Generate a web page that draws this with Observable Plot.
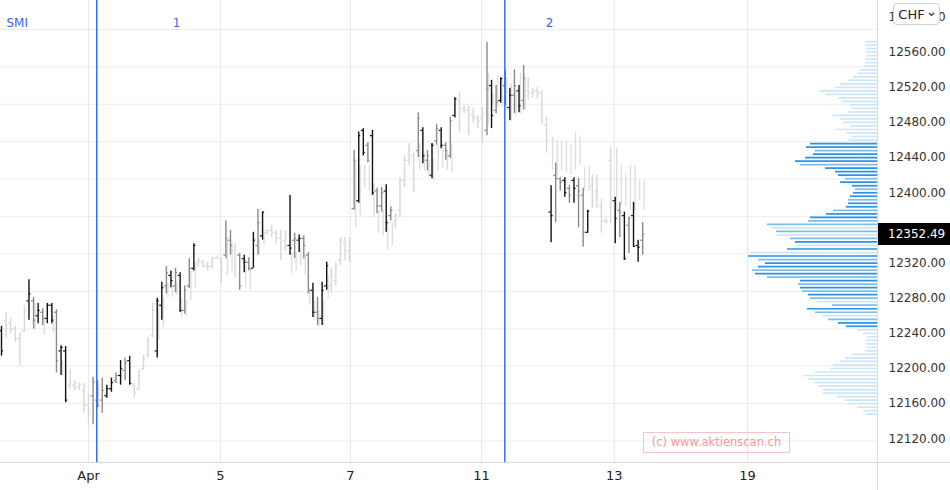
<!DOCTYPE html>
<html>
<head>
<meta charset="utf-8">
<script src="https://cdn.jsdelivr.net/npm/d3@7"></script>
<script src="https://cdn.jsdelivr.net/npm/@observablehq/plot@0.6"></script>
<style>
html,body{margin:0;padding:0;background:#fff;}
#wrap{position:relative;width:950px;height:490px;overflow:hidden;font-family:"DejaVu Sans",sans-serif;}
#wrap > svg{position:absolute;left:0;top:0;}
.hline{position:absolute;left:0;top:461.5px;width:950px;height:1px;background:#dadada;}
.vline{position:absolute;left:876.5px;top:0;width:1px;height:490px;background:#dadada;}
#chf{position:absolute;left:893px;top:3px;width:47px;height:22px;box-sizing:border-box;border:1px solid #cfcfcf;border-radius:4px;background:#fff;font-size:13px;color:#222;display:flex;align-items:center;justify-content:center;gap:3px;}
#wm{position:absolute;left:643px;top:432px;width:147px;height:21px;box-sizing:border-box;border:1px solid #f6c4c4;color:#f29a9a;font-size:11.5px;line-height:19px;text-align:center;}
</style>
</head>
<body>
<div id="wrap">
</div>
<script>
// ---------- data ----------
const seriesName = "SMI";
const currency = "CHF";
const watermark = "(c) www.aktienscan.ch";

// OHLC bars (one per bar index)
const highs = [
12248,12264,12257,12248,12240,12272,12301,12281,12274,12268,
12274,12274,12267,12226,12225,12198,12186,12183,12183,12171,
12190,12186,12189,12181,12189,12195,12209,12212,12214,12183,
12198,12215,12235,12274,12280,12298,12316,12311,12314,12309,
12294,12325,12342,12326,12323,12321,12327,12327,12326,12368,
12357,12342,12331,12329,12326,12355,12381,12378,12358,12363,
12357,12357,12357,12397,12354,12352,12351,12332,12297,12281,
12298,12321,12314,12321,12349,12349,12349,12448,12469,12473,
12457,12471,12405,12406,12409,12384,12376,12417,12442,12456,
12445,12491,12474,12448,12456,12478,12474,12457,12486,12508,
12514,12499,12499,12496,12488,12497,12571,12528,12522,12531,
12539,12519,12540,12522,12545,12531,12519,12520,12516,12486,
12408,12434,12417,12417,12408,12417,12416,12405,12380,12420,
12420,12393,12371,12451,12395,12389,12378,12372,12389,12346,
12366];
const lows = [
12214,12235,12240,12230,12203,12241,12255,12245,12251,12249,
12251,12251,12195,12192,12161,12177,12175,12175,12149,12137,
12136,12155,12149,12166,12173,12183,12181,12186,12181,12166,
12175,12198,12212,12235,12212,12255,12285,12292,12286,12264,
12262,12291,12311,12315,12314,12311,12314,12325,12297,12325,
12329,12303,12289,12309,12311,12314,12329,12346,12351,12349,
12342,12323,12334,12329,12325,12332,12325,12285,12258,12249,
12249,12289,12285,12294,12317,12323,12321,12380,12388,12442,
12434,12397,12376,12378,12355,12368,12360,12372,12406,12431,
12400,12440,12433,12425,12416,12454,12450,12437,12439,12485,
12469,12490,12465,12479,12473,12456,12465,12473,12490,12502,
12499,12482,12490,12491,12494,12505,12508,12507,12477,12445,
12343,12366,12402,12395,12388,12388,12360,12338,12354,12382,
12382,12354,12365,12365,12342,12349,12323,12331,12338,12321,
12329];
const opens = [
12243,12255,12252,12245,12234,12243,12277,12277,12260,12264,
12257,12272,12264,12220,12220,12181,12181,12179,12175,12158,
12169,12164,12164,12169,12177,12186,12192,12198,12209,12181,
12177,12200,12215,12238,12220,12272,12294,12306,12294,12306,
12266,12294,12314,12321,12321,12317,12316,12326,12325,12329,
12346,12334,12329,12325,12321,12314,12340,12351,12355,12357,
12354,12348,12346,12340,12346,12346,12348,12329,12289,12264,
12257,12294,12294,12300,12323,12343,12334,12382,12391,12471,
12454,12465,12402,12385,12402,12374,12368,12380,12414,12437,
12442,12448,12471,12437,12420,12459,12471,12454,12442,12488,
12505,12496,12494,12488,12485,12485,12471,12522,12494,12505,
12522,12497,12511,12516,12505,12516,12514,12516,12514,12477,
12378,12420,12416,12414,12405,12414,12408,12397,12355,12408,
12402,12385,12368,12437,12391,12380,12374,12363,12374,12340,
12346];
const closes = [
12220,12249,12245,12234,12238,12266,12285,12255,12266,12257,
12272,12255,12209,12224,12164,12186,12178,12182,12158,12152,
12185,12158,12175,12177,12184,12192,12200,12207,12183,12173,
12192,12211,12230,12266,12277,12292,12309,12300,12309,12266,
12289,12314,12340,12323,12317,12316,12325,12326,12311,12348,
12340,12317,12294,12321,12314,12346,12366,12378,12357,12355,
12348,12343,12340,12337,12348,12348,12340,12289,12264,12257,
12289,12317,12306,12317,12346,12334,12340,12437,12465,12446,
12437,12400,12385,12400,12366,12380,12374,12414,12437,12448,
12408,12485,12442,12442,12454,12473,12454,12448,12482,12507,
12494,12494,12471,12485,12482,12488,12519,12488,12503,12530,
12530,12511,12522,12499,12530,12528,12516,12513,12488,12460,
12374,12416,12412,12400,12397,12405,12402,12355,12379,12391,
12397,12368,12367,12391,12371,12378,12325,12371,12339,12338,
12352.49];
// bar tone: k = black, g = grey, l = light
const tones = ("klllllkgkg" + "kkgkklllll" + "gggkkgkgkl" + "llllkkgkgk" + "ggkllllllg" +
  "glgkgkgkll" + "lllkgkggkg" + "kklllllgkk" + "gkggkgllll" + "lgkgkgkggk" +
  "llllllgkgk" + "gkgkglllll" + "kggkgkggkl" + "llllkgkgkk" + "g").split("");

// second (pale) bar series behind the dark bars
const ghostIndex = [7,9,11,13,34,35,36,37,38,39,40,41,42,49,50,53,54,56,57,63,64,65,66,67,68,69,70,71,
  77,78,79,80,81,82,83,84,85,91,92,93,94,95,96,97,98,106,107,108,109,110,111,112,113,114,
  120,121,122,123,124,125,126,127,128,134,135,136,137,138,139,140];
const ghostHigh = [12274,12257,12260,12209,12274,12281,12297,12294,12297,12280,12277,12311,12321,12346,12342,
  12317,12314,12346,12357,12332,12332,12337,12329,12289,12277,12266,12277,12306,
  12437,12431,12431,12431,12410,12380,12380,12368,12366,12456,12445,12437,12439,12454,12451,12448,12454,
  12536,12513,12533,12533,12528,12524,12516,12536,12533,
  12463,12459,12459,12459,12454,12469,12463,12429,12431,12451,12431,12420,12431,12431,12414,12414];
const ghostLow = [12243,12238,12240,12192,12232,12247,12281,12281,12283,12258,12260,12277,12292,12306,12311,
  12292,12289,12329,12340,12308,12311,12317,12306,12272,12255,12247,12249,12280,
  12360,12374,12405,12402,12372,12354,12351,12334,12340,12425,12425,12420,12414,12425,12428,12425,12423,
  12477,12497,12497,12497,12494,12482,12488,12490,12494,
  12425,12417,12425,12423,12420,12425,12431,12402,12402,12380,12385,12385,12380,12380,12391,12380];

// volume profile
const profilePrice = [
12572,12568,12564,12560,12556,12552,12548,12544,12540,12536,
12532,12528,12524,12520,12516,12512,12508,12504,12500,12496,
12492,12488,12484,12480,12476,12472,12468,12464,12460,12456,
12452,12448,12444,12440,12436,12432,12428,12424,12420,12416,
12412,12408,12404,12400,12396,12392,12388,12384,12380,12376,
12372,12368,12364,12360,12356,12352,12348,12344,12340,12336,
12332,12328,12324,12320,12316,12312,12308,12304,12300,12296,
12292,12288,12284,12280,12276,12272,12268,12264,12260,12256,
12252,12248,12244,12240,12236,12232,12228,12224,12220,12216,
12212,12208,12204,12200,12196,12192,12188,12184,12180,12176,
12172,12168,12164,12160,12156,12152,12148];
const profileVolume = [
11,11,11,11,10,12,12,13,17,20,
24,29,37,42,57,52,39,35,27,25,
29,45,37,34,27,41,31,25,29,67,
71,62,64,72,82,77,52,42,39,32,
37,25,22,24,27,29,29,31,44,51,
67,69,110,105,101,100,87,82,80,90,
127,129,119,112,119,125,122,110,77,79,
77,75,69,67,60,45,70,62,55,49,
39,31,20,14,10,11,11,10,12,25,
32,37,44,47,62,74,69,62,59,54,
54,40,32,29,20,14,11];
const profileTone = ("LLLLLLLLLLLLLLLLLLLLLLLLLLLLL" +
  "DDMDDDMDDD" + "MDDMDDMDDM" + "DDMMLMLMDL" + "DLDMDDMDMD" + "MDMDMLMDML" + "MDD" +
  "LLLLLLLLLLLLLLLLLLLLLLLLL").split("");

// axes
const yTicks = [12120,12160,12200,12240,12280,12320,12360,12400,12440,12480,12520,12560,12600];
const gridPrices = [12117.5,12160.1,12202.7,12245.2,12287.8,12330.4,12372.9,12415.5,12458.1,12500.7,12543.3,12585.8];
const xTickPos = [19, 47.8, 76.2, 104.8, 133.8, 162.9];
const xTickLabels = ["Apr", "5", "7", "11", "13", "19"];
const markerPos = [20.8, 109.9];
const markerLabels = ["1", "2"];
const markerLabelPos = [38.2, 119.65];
const lastPrice = closes[closes.length - 1];

// ---------- build ----------
const bars = opens.map((o, i) => ({i, o, h: highs[i], l: lows[i], c: closes[i], t: tones[i]}));
const ghosts = ghostIndex.map((i, k) => ({i, h: ghostHigh[k], l: ghostLow[k]}));

const toneColor = {k: "#111111", g: "#8a8a8a", l: "#d7d7d7"};
const profColor = {L: "#cde6f9", M: "#7dbdf0", D: "#2a92e8"};
const blue = "#2962ff";
const W = 950, H = 490, ML = 0, MR = 73, MT = 0, MB = 28;
const yDomain = [12093.0, 12618.8];
const xDomain = [-0.22, 191.27];
const tickHalf = 0.45;
const fmt = d3.format(".2f");

const main = Plot.plot({
  width: W, height: H,
  marginLeft: ML, marginRight: MR, marginTop: MT, marginBottom: MB,
  style: {background: "transparent", fontFamily: "DejaVu Sans, sans-serif"},
  x: {domain: xDomain},
  y: {domain: yDomain},
  marks: [
    Plot.gridY(gridPrices, {stroke: "#ededed", strokeOpacity: 1}),
    Plot.gridX(xTickPos, {stroke: "#e8e8e8", strokeOpacity: 1}),
    Plot.ruleX(ghosts, {x: "i", y1: "l", y2: "h", stroke: "#dedede", strokeWidth: 1.4, dx: 1.5}),
    Plot.ruleX(bars, {x: "i", y1: "l", y2: "h", stroke: d => toneColor[d.t], strokeWidth: 1.4}),
    Plot.ruleY(bars, {y: "o", x1: d => d.i - tickHalf, x2: "i", stroke: d => toneColor[d.t], strokeWidth: 1.2}),
    Plot.ruleY(bars, {y: "c", x1: "i", x2: d => d.i + tickHalf, stroke: d => toneColor[d.t], strokeWidth: 1.2}),
    Plot.ruleX(markerPos, {stroke: blue, strokeWidth: 1.4}),
    Plot.text(markerLabels, {x: (d, i) => markerLabelPos[i], frameAnchor: "top", dy: 18, fill: "#3d63f0", fontSize: 12}),
    Plot.text([seriesName], {frameAnchor: "top-left", dx: 6, dy: 18, textAnchor: "start", fill: "#3d63f0", fontSize: 12}),
    Plot.axisY(yTicks, {anchor: "right", tickSize: 0, tickPadding: 11, tickFormat: fmt, fontSize: 12, color: "#333", label: null}),
    Plot.axisX(xTickPos, {anchor: "bottom", tickSize: 0, tickPadding: 8, tickFormat: d => xTickLabels[xTickPos.indexOf(d)], fontSize: 13, color: "#222", label: null})
  ]
});

const prof = Plot.plot({
  width: W, height: H,
  marginLeft: ML, marginRight: MR, marginTop: MT, marginBottom: MB,
  style: {background: "transparent"},
  x: {domain: [0, W - MR - ML], reverse: true, axis: null},
  y: {domain: yDomain, axis: null},
  marks: [
    Plot.ruleY(profilePrice, {y: d => d, x1: 0, x2: (d, i) => profileVolume[i], stroke: (d, i) => profColor[profileTone[i]], strokeWidth: 1.7})
  ]
});

const wrap = document.getElementById("wrap");
wrap.appendChild(main);
wrap.appendChild(prof);

// current price flag on the right axis
const yScale = main.scale("y");
const yy = yScale.apply(lastPrice);
const g = d3.select(main).append("g").attr("text-anchor", "start");
g.append("rect").attr("x", W - MR).attr("y", yy - 11).attr("width", MR).attr("height", 22).attr("fill", "#000");
g.append("text").attr("x", W - MR + 11).attr("y", yy).attr("dy", "0.35em").attr("text-anchor", "start")
  .attr("fill", "#fff").attr("font-size", 12).attr("font-family", "DejaVu Sans, sans-serif").text(fmt(lastPrice));

// chrome
const hl = document.createElement("div"); hl.className = "hline"; wrap.appendChild(hl);
const vl = document.createElement("div"); vl.className = "vline"; wrap.appendChild(vl);
const chf = document.createElement("div"); chf.id = "chf";
chf.innerHTML = '<span>' + currency + '</span><svg width="7" height="5" viewBox="0 0 7 5"><polyline points="1,1 3.5,3.5 6,1" fill="none" stroke="#333" stroke-width="1.2"/></svg>';
wrap.appendChild(chf);
const wm = document.createElement("div"); wm.id = "wm"; wm.textContent = watermark; wrap.appendChild(wm);
</script>
</body>
</html>
